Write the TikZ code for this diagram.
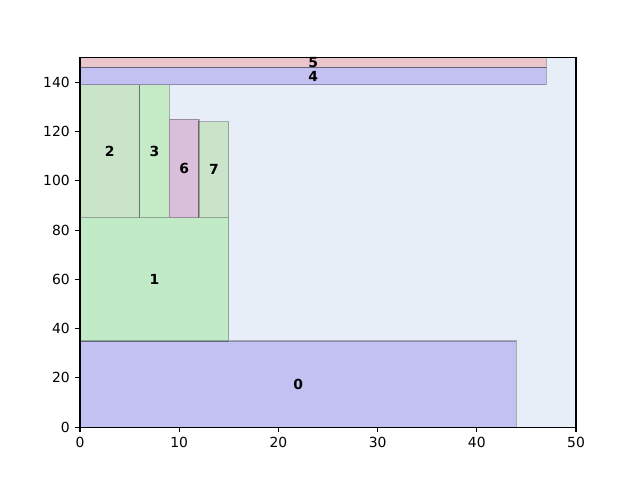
\documentclass[tikz,border=0pt]{standalone}
\usepackage{fontspec}
\setmainfont{DejaVu Sans}
\usepackage{tikz}
\usetikzlibrary{positioning}

\definecolor{binbg}{HTML}{E8EEF7}
\definecolor{blueitem}{HTML}{C3C1F1}
\definecolor{greenitem}{HTML}{C1EBC6}
\definecolor{sageitem}{HTML}{C9E4C9}
\definecolor{mintitem}{HTML}{C5EAC6}
\definecolor{mauveitem}{HTML}{D9BFD9}
\definecolor{pinkitem}{HTML}{EAC5CB}

\begin{document}
\begin{tikzpicture}[x=7.1424pt, y=1.77408pt,
    item/.style={draw=black, draw opacity=0.28, line width=1pt},
    itemlabel/.style={font=\bfseries, inner sep=0pt},
    axisline/.style={line width=0.8pt}]
    \useasboundingbox (-57.6pt,-38.016pt) rectangle (403.2pt,307.584pt);

    % bin area
    \fill[binbg] (0,0) rectangle (50,150);

    % packed items
    \draw[item, fill=blueitem] (0,0) rectangle (44,35);
    \draw[item, fill=greenitem] (0,35) rectangle (15,85);
    \draw[item, fill=sageitem] (0,85) rectangle (6,139);
    \draw[item, fill=mintitem] (6,85) rectangle (9,139);
    \draw[item, fill=mauveitem] (9,85) rectangle (12,125);
    \draw[item, fill=sageitem] (12,85) rectangle (15,124);
    \draw[item, fill=blueitem] (0,139) rectangle (47,146);
    \draw[item, fill=pinkitem] (0,146) rectangle (47,150);

    \node[itemlabel] (i0) at (22,17.5) {0};
    \node[itemlabel] (i1) at (7.5,60) {1};
    \node[itemlabel] (i2) at (3,112) {2};
    \node[itemlabel] (i3) at (7.5,112) {3};
    \node[itemlabel] (i6) at (10.5,105) {6};
    \node[itemlabel] (i7) at (13.5,104.5) {7};
    \node[itemlabel] (i4) at (23.5,142.5) {4};
    \node[itemlabel] (i5) at (23.5,148) {5};

    % axes frame and ticks
    \draw[axisline] (0,0) rectangle (50,150);
    \foreach \x in {0,10,...,50}
        \draw[axisline] (\x,0) -- ++(0,-3.5pt)
            node[below=3.5pt, inner sep=0pt] (xt\x) {\x};
    \foreach \y in {0,20,...,140}
        \draw[axisline] (0,\y) -- ++(-3.5pt,0)
            node[left=3.5pt, inner sep=0pt] (yt\y) {\y};
\end{tikzpicture}
\end{document}
